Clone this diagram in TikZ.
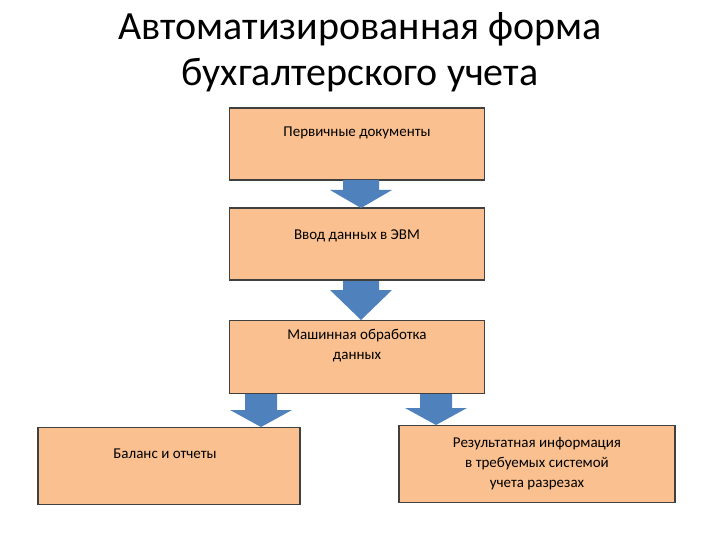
\documentclass[tikz,border=0pt]{standalone}
\usepackage{fontspec}
\setmainfont{Carlito}
\begin{document}
\begin{tikzpicture}[x=1pt,y=-1pt,
  box/.style={draw=black!75,line width=1.2pt,fill=boxc,inner sep=0pt},
  txt/.style={font=\fontsize{15}{20}\selectfont,align=center,inner sep=0pt}]
\definecolor{boxc}{HTML}{FAC090}
\definecolor{arrc}{HTML}{4F81BD}
\useasboundingbox (0,0) rectangle (720,540);
\node[font=\fontsize{40}{46}\selectfont,align=center] (title) at (360,52) {Автоматизированная форма\\бухгалтерского учета};
\node[box,minimum width=255,minimum height=72] (b1) at (357,144) {};
\node[txt] at (357,133) (t1) {Первичные документы};
\node[box,minimum width=255,minimum height=72] (b2) at (357,244) {};
\node[txt] at (357,236) (t2) {Ввод данных в ЭВМ};
\node[box,minimum width=255,minimum height=73] (b3) at (357,357) {};
\node[txt] at (357,346) (t3) {Машинная обработка\\данных};
\node[box,minimum width=262,minimum height=77] (b4) at (169,466) {};
\node[txt] at (165,454) (t4) {Баланс и отчеты};
\node[box,minimum width=276,minimum height=77] (b5) at (537,464) {};
\node[txt] at (537,464) (t5) {Результатная информация\\в требуемых системой\\учета разрезах};
\foreach \cx/\ya/\yb/\yc/\hw/\sw in {361/180/190/208/31/18, 361/281/290/320/31/18, 261/394/410/427/31/16, 436/394/408/425/31/16}{
  \fill[arrc] (\cx-\sw,\ya) -- (\cx+\sw,\ya) -- (\cx+\sw,\yb) -- (\cx+\hw,\yb) -- (\cx,\yc) -- (\cx-\hw,\yb) -- (\cx-\sw,\yb) -- cycle;
}
\end{tikzpicture}
\end{document}
